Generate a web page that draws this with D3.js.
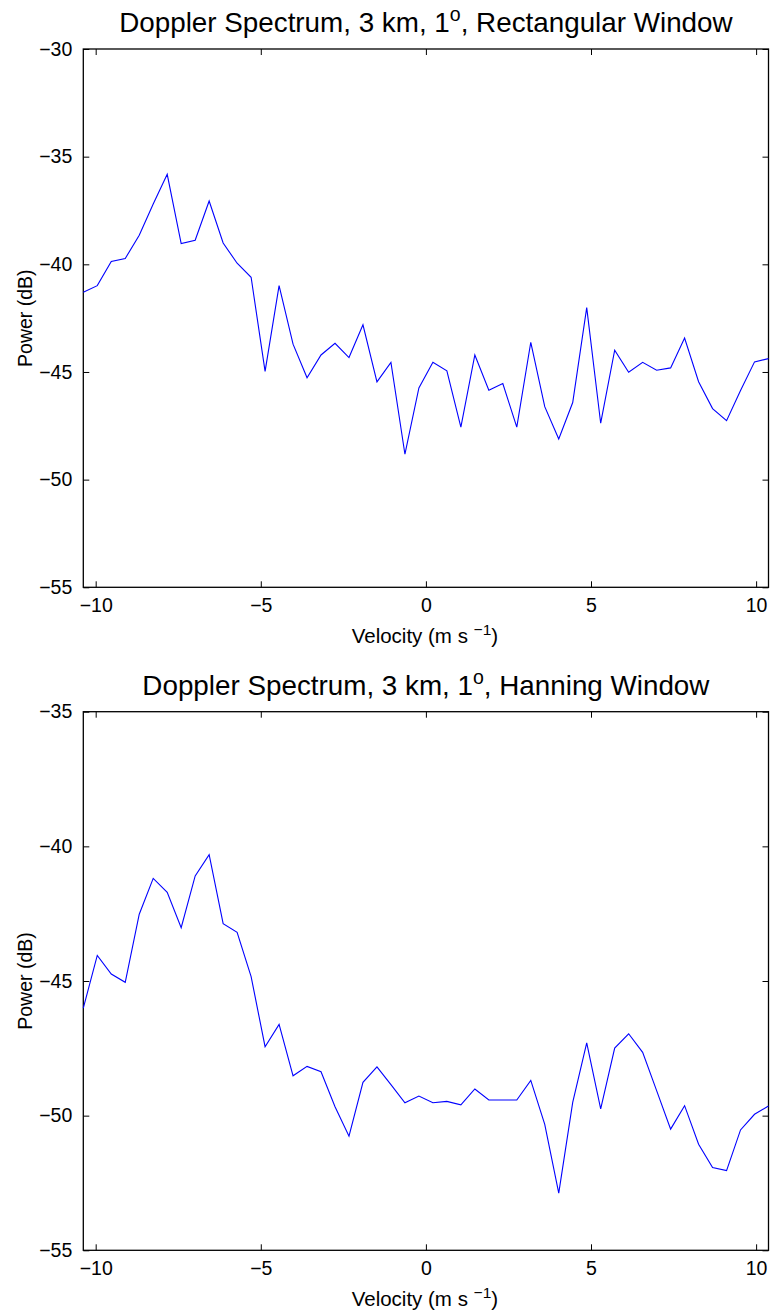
<!DOCTYPE html>
<html>
<head>
<meta charset="utf-8">
<script src="https://cdn.jsdelivr.net/npm/d3@7"></script>
<style>
  html, body { margin: 0; padding: 0; background: #fff; }
  svg { display: block; font-family: "Liberation Sans", Arial, Helvetica, sans-serif; }
</style>
</head>
<body>
<svg id="chart" width="773" height="1314"></svg>
<script>
// Doppler velocity bins (m/s)
const velocity = [
  -10.375, -9.952, -9.528, -9.105, -8.681, -8.258, -7.834, -7.411, -6.987, -6.564,
  -6.140, -5.717, -5.293, -4.870, -4.446, -4.023, -3.599, -3.176, -2.752, -2.329,
  -1.906, -1.482, -1.059, -0.635, -0.212, 0.212, 0.635, 1.059, 1.482, 1.906,
  2.329, 2.752, 3.176, 3.599, 4.023, 4.446, 4.870, 5.293, 5.717, 6.140,
  6.564, 6.987, 7.411, 7.834, 8.258, 8.681, 9.105, 9.528, 9.952, 10.375
];

// Spectral power (dB), rectangular window
const powerRect = [
  -41.30, -40.99, -39.87, -39.73, -38.65, -37.20, -35.82, -39.04, -38.88, -37.06,
  -39.01, -39.95, -40.60, -44.97, -40.99, -43.71, -45.27, -44.21, -43.67, -44.33,
  -42.81, -45.46, -44.56, -48.82, -45.74, -44.55, -44.95, -47.56, -44.21, -45.85,
  -45.54, -47.56, -43.62, -46.61, -48.11, -46.42, -42.01, -47.38, -43.99, -45.01,
  -44.55, -44.92, -44.81, -43.42, -45.45, -46.70, -47.26, -45.86, -44.53, -44.38
];

// Spectral power (dB), Hanning window
const powerHann = [
  -46.01, -44.05, -44.74, -45.05, -42.52, -41.19, -41.71, -43.02, -41.10, -40.31,
  -42.87, -43.19, -44.84, -47.44, -46.61, -48.52, -48.17, -48.37, -49.67, -50.76,
  -48.76, -48.19, -48.85, -49.52, -49.27, -49.52, -49.47, -49.60, -49.01, -49.42,
  -49.42, -49.42, -48.69, -50.32, -52.88, -49.51, -47.30, -49.75, -47.49, -46.96,
  -47.65, -49.07, -50.50, -49.63, -51.06, -51.93, -52.04, -50.53, -49.95, -49.64
];

const xTicks = [-10, -5, 0, 5, 10];
const yTicksRect = [-55, -50, -45, -40, -35, -30];
const yTicksHann = [-55, -50, -45, -40, -35];

const panels = [
  { window: "Rectangular Window", values: powerRect, yDomain: [-55, -30], yTicks: yTicksRect, top: 49, bottom: 587.3 },
  { window: "Hanning Window", values: powerHann, yDomain: [-55, -35], yTicks: yTicksHann, top: 711.7, bottom: 1250.3 }
];

const svg = d3.select("#chart");
const left = 83.3, right = 768.5;
const minus = s => String(s).replace("-", "\u2212");

panels.forEach(p => {
  const x = d3.scaleLinear().domain([-10.375, 10.375]).range([left, right]);
  const y = d3.scaleLinear().domain(p.yDomain).range([p.bottom, p.top]);
  const g = svg.append("g");

  // axis box
  g.append("rect")
    .attr("x", left).attr("y", p.top)
    .attr("width", right - left).attr("height", p.bottom - p.top)
    .attr("fill", "none").attr("stroke", "#000").attr("stroke-width", 1.3);

  // x ticks (inward, bottom and top) with labels below
  const xb = d3.axisBottom(x).tickValues(xTicks).tickSizeInner(-6).tickSizeOuter(0).tickPadding(11).tickFormat(minus);
  const xa = g.append("g").attr("transform", `translate(0,${p.bottom})`).call(xb);
  const xt = d3.axisTop(x).tickValues(xTicks).tickSizeInner(-6).tickSizeOuter(0).tickFormat("");
  const xta = g.append("g").attr("transform", `translate(0,${p.top})`).call(xt);

  // y ticks (inward, left and right) with labels on the left
  const yl = d3.axisLeft(y).tickValues(p.yTicks).tickSizeInner(-6).tickSizeOuter(0).tickPadding(11).tickFormat(minus);
  const ya = g.append("g").attr("transform", `translate(${left},0)`).call(yl);
  const yr = d3.axisRight(y).tickValues(p.yTicks).tickSizeInner(-6).tickSizeOuter(0).tickFormat("");
  const yra = g.append("g").attr("transform", `translate(${right},0)`).call(yr);

  [xa, xta, ya, yra].forEach(a => {
    a.select(".domain").remove();
    a.selectAll("line").attr("stroke", "#000").attr("stroke-width", 1);
    a.selectAll("text").attr("fill", "#000").style("font-size", "19.5px").style("font-family", "inherit");
  });

  // spectrum trace
  const line = d3.line().x((d, i) => x(velocity[i])).y(d => y(d));
  g.append("path")
    .datum(p.values)
    .attr("d", line)
    .attr("fill", "none")
    .attr("stroke", "#0000ff")
    .attr("stroke-width", 1.1)
    .attr("stroke-linejoin", "miter");

  // title
  const title = g.append("text")
    .attr("x", (left + right) / 2).attr("y", p.top - 17)
    .attr("text-anchor", "middle")
    .style("font-size", "27.8px").attr("fill", "#000");
  title.append("tspan").text("Doppler Spectrum, 3 km, 1");
  title.append("tspan").attr("dy", -11).style("font-size", "19.5px").text("o");
  title.append("tspan").attr("dy", 11).text(", " + p.window);

  // x-axis label
  const xl = g.append("text")
    .attr("x", (left + right) / 2 - 1).attr("y", p.bottom + 56)
    .attr("text-anchor", "middle")
    .style("font-size", "20.5px").attr("fill", "#000");
  xl.append("tspan").text("Velocity (m s ");
  xl.append("tspan").attr("dy", -8).style("font-size", "15.5px").text("\u22121");
  xl.append("tspan").attr("dy", 8).text(")");

  // y-axis label
  g.append("text")
    .attr("transform", `translate(31.5,${(p.top + p.bottom) / 2}) rotate(-90)`)
    .attr("text-anchor", "middle")
    .style("font-size", "19.5px").attr("fill", "#000")
    .text("Power (dB)");
});
</script>
</body>
</html>
